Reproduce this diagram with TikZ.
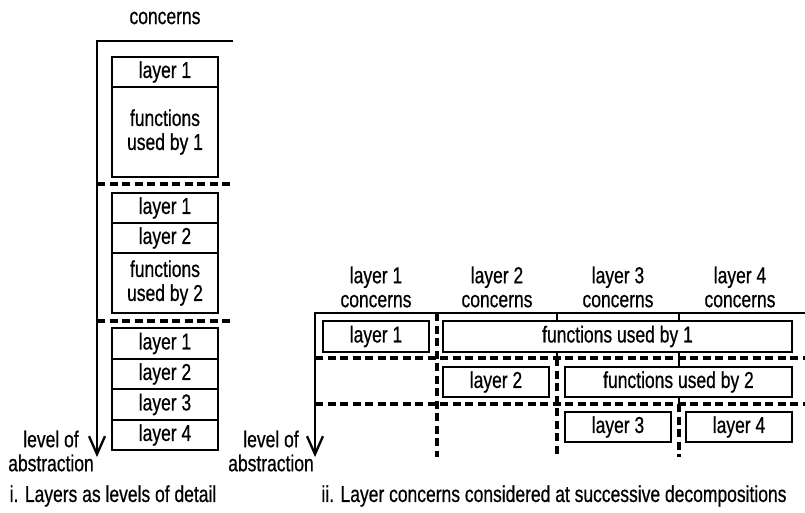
\documentclass[tikz,border=0pt]{standalone}
\usepackage{fontspec}
\setmainfont{Liberation Sans}[FakeStretch=0.76, FakeBold=0.6]
\usetikzlibrary{arrows.meta}
\begin{document}
\begin{tikzpicture}[x=1pt,y=-1pt,
  every node/.style={font=\fontsize{23}{24}\selectfont, inner sep=0pt, align=center},
  box/.style={draw, line width=2.3pt, fill=white, minimum width=106pt, minimum height=30.5pt},
  axis/.style={line width=2.3pt, -{Straight Barb[length=18pt,width=16pt]}},
  rule/.style={line width=2.3pt},
  sep/.style={line width=3.2pt, dash pattern=on 8pt off 4.5pt},
  lbl/.style={}]
\useasboundingbox (0,0) rectangle (805,512);

% ---------- i. layers as levels of detail ----------
\node[lbl] (conc) at (165,18) {concerns};
\coordinate (ltop) at (233,41);
\coordinate (lcorner) at (97,41);
\coordinate (lend) at (97,457);
\draw[axis] (ltop) -- (lcorner) -- (lend);

\coordinate (ld1a) at (97,184);  \coordinate (ld1b) at (231,184);
\coordinate (ld2a) at (97,321);  \coordinate (ld2b) at (231,321);
\draw[sep] (ld1a) -- (ld1b);
\draw[sep] (ld2a) -- (ld2b);

\node[box] (a1) at (165,72) {layer 1};
\node[box, minimum height=90pt] (af1) at (165,132) {functions\\used by 1};

\node[box] (b1) at (165,208) {layer 1};
\node[box] (b2) at (165,238) {layer 2};
\node[box, minimum height=60pt] (bf2) at (165,283) {functions\\used by 2};

\node[box] (c1) at (165,343.5) {layer 1};
\node[box] (c2) at (165,374) {layer 2};
\node[box] (c3) at (165,404.5) {layer 3};
\node[box] (c4) at (165,435) {layer 4};

\node[lbl] (labsl) at (51,451) {level of\\abstraction};
\node[lbl] (capl) at (113,496) {i. Layers as levels of detail};

% ---------- ii. layer concerns at successive decompositions ----------
\node[lbl] (h1) at (376,287) {layer 1\\concerns};
\node[lbl] (h2) at (497,287) {layer 2\\concerns};
\node[lbl] (h3) at (618,287) {layer 3\\concerns};
\node[lbl] (h4) at (740,287) {layer 4\\concerns};

\coordinate (rtop) at (805,313);
\coordinate (rcorner) at (315,313);
\coordinate (rend) at (315,457);

% column separators
\coordinate (s1t) at (437,313); \coordinate (s1b) at (437,457);
\coordinate (s2t) at (557,313); \coordinate (s2m) at (557,358); \coordinate (s2b) at (557,457);
\coordinate (s3t) at (679,313); \coordinate (s3m) at (679,404); \coordinate (s3b) at (679,457);
\draw[sep] (s1t) -- (s1b);
\draw[rule] (s2t) -- (s2m);
\draw[sep] (s2m) -- (s2b);
\draw[rule] (s3t) -- (s3m);
\draw[sep] (s3m) -- (s3b);

% decomposition levels
\coordinate (rd1a) at (315,358); \coordinate (rd1b) at (805,358);
\coordinate (rd2a) at (315,404); \coordinate (rd2b) at (805,404);
\draw[sep] (rd1a) -- (rd1b);
\draw[sep] (rd2a) -- (rd2b);

\draw[axis] (rtop) -- (rcorner) -- (rend);

\node[box] (r1) at (376,336.5) {layer 1};
\node[box, minimum width=349pt] (rf1) at (617.5,336.5) {functions used by 1};
\node[box] (r2) at (496,382) {layer 2};
\node[box, minimum width=227pt] (rf2) at (678.5,382) {functions used by 2};
\node[box] (r3) at (618,427) {layer 3};
\node[box] (r4) at (739,427) {layer 4};

\node[lbl] (labsr) at (271,451) {level of\\abstraction};
\node[lbl] (capr) at (554,496) {ii. Layer concerns considered at successive decompositions};
\end{tikzpicture}
\end{document}
